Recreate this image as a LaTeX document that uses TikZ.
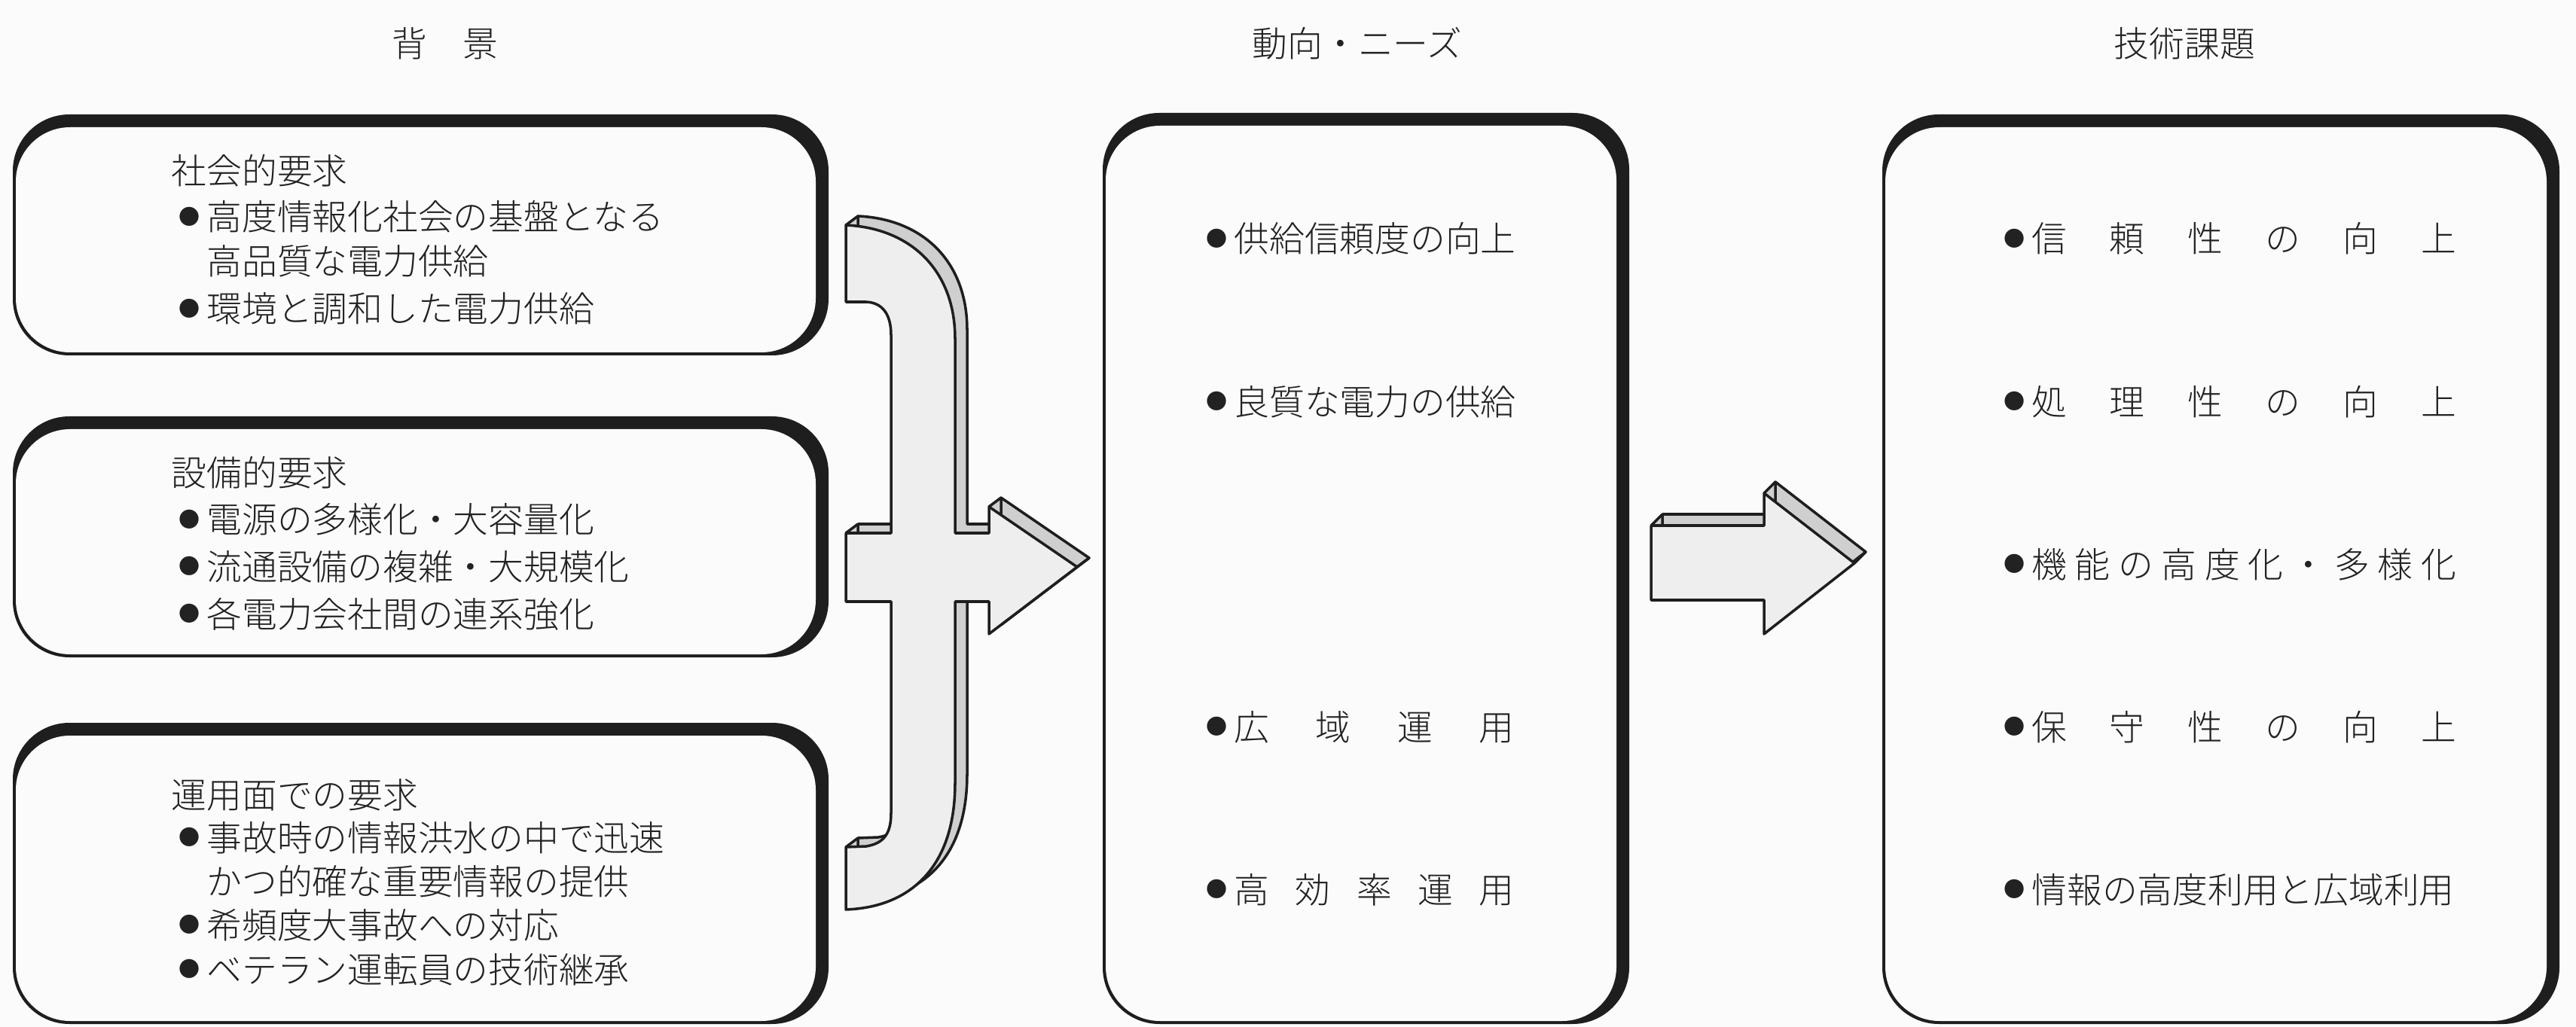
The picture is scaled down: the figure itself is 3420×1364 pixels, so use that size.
\documentclass[tikz,border=0pt]{standalone}
\usepackage{fontspec}
\setmainfont{Noto Sans CJK JP Light}
\definecolor{ink}{HTML}{1E1E1E}
\definecolor{txt}{HTML}{222222}
\definecolor{bg}{HTML}{FBFBFB}
\definecolor{face}{HTML}{EEEEEE}
\definecolor{side}{HTML}{CFCFCF}
\newcommand\bul{\makebox[1em][c]{\raisebox{0.15em}{\scalebox{0.6}{●}}}}
\newcommand\mybox[4]{%
  \fill[ink, rounded corners=0.75cm] (#1,#2) rectangle (#3,#4);
  \fill[bg, rounded corners=0.72cm] ({#1+4},{#2+17}) rectangle ({#3-17},{#4-4});
}
\newcommand\bracepath{(1123,299) .. controls (1210,303) and (1268,360) .. (1268,450) -- (1268,708) -- (1313,708) -- (1313,673) -- (1430,753) -- (1313,842) -- (1313,799) -- (1268,799) -- (1268,1040) .. controls (1268,1150) and (1210,1205) .. (1123,1208) -- (1123,1125) -- (1150,1124) .. controls (1175,1120) and (1183,1105) .. (1183,1080) -- (1183,799) -- (1123,799) -- (1123,708) -- (1183,708) -- (1183,445) .. controls (1183,418) and (1172,402) .. (1150,401) -- (1123,401) -- cycle}
\newcommand\arrowpath{(2192,698) -- (2342,698) -- (2342,655) -- (2462,748) -- (2342,842) -- (2342,797) -- (2192,797) -- cycle}
\begin{document}
\begin{tikzpicture}[x=0.01cm, y=-0.01cm,
  lt/.style={anchor=base west, inner sep=0pt, text=txt, font=\fontsize{13.3pt}{16pt}\selectfont},
  edge3d/.style={draw=ink, line width=1pt, line join=round}]
\useasboundingbox (0,0) rectangle (3420,1364);
\fill[bg] (0,0) rectangle (3420,1364);

% titles
\node[lt] (t1) at (520,76) {背　景};
\node[lt] (t2) at (1662,76) {動向・ニーズ};
\node[lt] (t3) at (2806,76) {技術課題};

% left boxes
\mybox{17}{152}{1100}{472}
\mybox{17}{553}{1100}{873}
\mybox{17}{960}{1100}{1360}
% middle and right boxes
\mybox{1464}{150}{2163}{1360}
\mybox{2499}{152}{3398}{1360}

% box 1 text
\node[lt] (a1) at (227,245) {社会的要求};
\node[lt] (a2) at (227,306) {\bul 高度情報化社会の基盤となる};
\node[lt] (a3) at (227,365) {　高品質な電力供給};
\node[lt] (a4) at (227,428) {\bul 環境と調和した電力供給};
% box 2 text
\node[lt] (b1) at (227,646) {設備的要求};
\node[lt] (b2) at (227,708) {\bul 電源の多様化・大容量化};
\node[lt] (b3) at (227,770) {\bul 流通設備の複雑・大規模化};
\node[lt] (b4) at (227,833) {\bul 各電力会社間の連系強化};
% box 3 text
\node[lt] (c1) at (227,1073) {運用面での要求};
\node[lt] (c2) at (227,1130) {\bul 事故時の情報洪水の中で迅速};
\node[lt] (c3) at (227,1188) {　かつ的確な重要情報の提供};
\node[lt] (c4) at (227,1246) {\bul 希頻度大事故への対応};
\node[lt] (c5) at (227,1305) {\bul ベテラン運転員の技術継承};

% middle text
\node[lt] (m1) at (1591,335) {\bul\makebox[3.72cm][l]{供給信頼度の向上}};
\node[lt] (m2) at (1591,551) {\bul\makebox[3.72cm][l]{良質な電力の供給}};
\node[lt] (m3) at (1591,983) {\bul\makebox[3.72cm][l]{広\hfill 域\hfill 運\hfill 用}};
\node[lt] (m4) at (1591,1199) {\bul\makebox[3.72cm][l]{高\hfill 効\hfill 率\hfill 運\hfill 用}};

% right text
\node[lt] (r1) at (2650,335) {\bul\makebox[5.63cm][l]{信\hfill 頼\hfill 性\hfill の\hfill 向\hfill 上}};
\node[lt] (r2) at (2650,551) {\bul\makebox[5.63cm][l]{処\hfill 理\hfill 性\hfill の\hfill 向\hfill 上}};
\node[lt] (r3) at (2650,767) {\bul\makebox[5.63cm][l]{機\hfill 能\hfill の\hfill 高\hfill 度\hfill 化\hfill ・\hfill 多\hfill 様\hfill 化}};
\node[lt] (r4) at (2650,983) {\bul\makebox[5.63cm][l]{保\hfill 守\hfill 性\hfill の\hfill 向\hfill 上}};
\node[lt] (r5) at (2650,1199) {\bul\makebox[5.63cm][l]{情報の高度利用と広域利用}};

% brace arrow (3D)
\foreach \k in {0,1,...,8} {
  \fill[side, shift={({16*\k/8},{-12*\k/8})}] \bracepath;
}
\draw[edge3d, shift={(16,-12)}] \bracepath;
\foreach \p in {(1123,299),(1123,708),(1123,1125),(1313,673),(1430,753)} {
  \draw[edge3d] \p -- ++(16,-12);
}
\filldraw[edge3d, fill=face] \bracepath;

% right arrow (3D)
\foreach \k in {0,1,...,8} {
  \fill[side, shift={({15*\k/8},{-15*\k/8})}] \arrowpath;
}
\draw[edge3d, shift={(15,-15)}] \arrowpath;
\foreach \p in {(2192,698),(2342,655),(2462,748)} {
  \draw[edge3d] \p -- ++(15,-15);
}
\filldraw[edge3d, fill=face] \arrowpath;
\end{tikzpicture}
\end{document}
